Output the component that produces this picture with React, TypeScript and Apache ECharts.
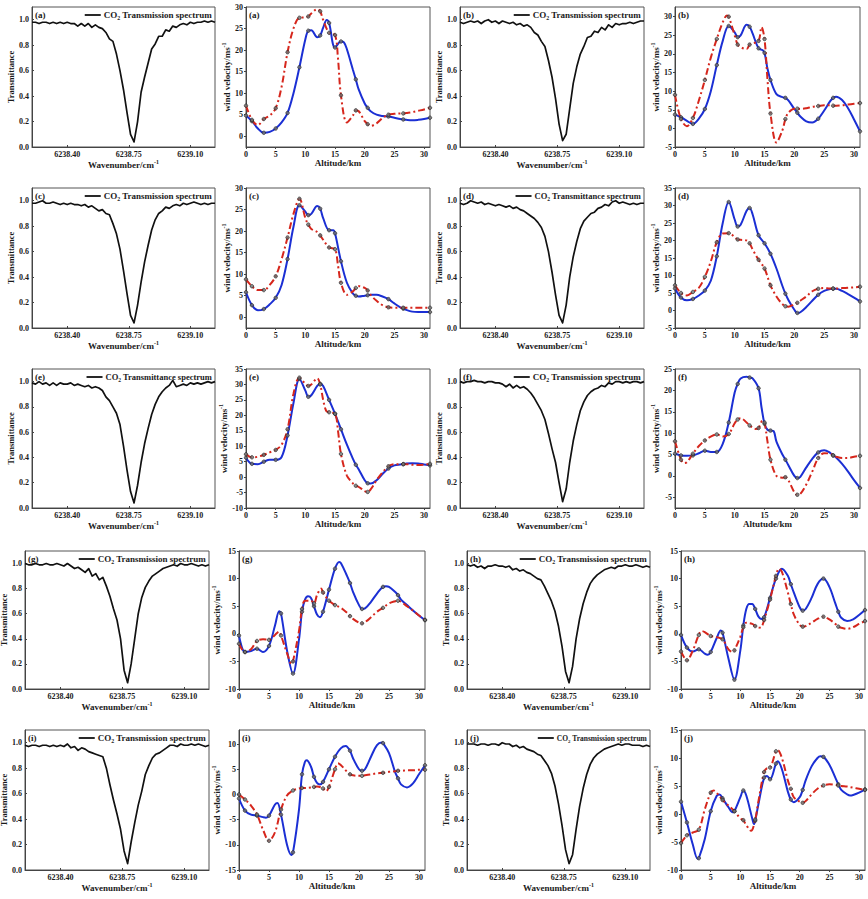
import React, { useEffect, useRef } from 'react';
import * as echarts from 'echarts';

// ---------------- data ----------------
const WAVENUMBER = [
  6238.20, 6238.22, 6238.24, 6238.26, 6238.28, 6238.30, 6238.32, 6238.34, 6238.36, 6238.38,
  6238.40, 6238.42, 6238.44, 6238.46, 6238.48, 6238.50, 6238.52, 6238.54, 6238.56, 6238.58,
  6238.60, 6238.62, 6238.64, 6238.66, 6238.68, 6238.70, 6238.72, 6238.74, 6238.76, 6238.78,
  6238.80, 6238.82, 6238.84, 6238.86, 6238.88, 6238.90, 6238.92, 6238.94, 6238.96, 6238.98,
  6239.00, 6239.02, 6239.04, 6239.06, 6239.08, 6239.10, 6239.12, 6239.14, 6239.16, 6239.18,
  6239.20, 6239.22, 6239.24,
];
const WN_TICKS = [6238.40, 6238.75, 6239.10];
const T_TICKS = [0, 0.2, 0.4, 0.6, 0.8, 1.0];
const ALT_TICKS = [0, 5, 10, 15, 20, 25, 30];

const SPEC_A = [0.98,0.98,0.97,0.98,0.98, 0.97,0.98,0.97,0.98,0.97, 0.98,0.97,0.97,0.95,0.97, 0.95,0.97,0.94,0.96,0.94, 0.93,0.90,0.85,0.83,0.73, 0.60,0.45,0.27,0.10,0.04, 0.20,0.43,0.55,0.66,0.77, 0.81,0.87,0.87,0.92,0.91, 0.95,0.94,0.96,0.97,0.96, 0.98,0.97,0.98,0.98,0.99, 0.98,0.99,0.98];
const SPEC_B = [0.98,0.97,0.98,0.99,0.98, 0.99,0.97,0.99,1.0,0.98, 0.99,0.97,0.99,0.98,0.97, 0.98,0.96,0.97,0.95,0.96, 0.94,0.90,0.88,0.83,0.79, 0.68,0.55,0.38,0.18,0.05, 0.10,0.30,0.50,0.63,0.73, 0.79,0.86,0.87,0.91,0.90, 0.94,0.92,0.96,0.94,0.97, 0.96,0.97,0.97,0.98,0.97, 0.98,0.99,0.99];
const SPEC_C = [0.98,0.98,0.99,1.0,0.98, 0.98,0.99,0.98,0.97,0.98, 0.97,0.98,0.97,0.97,0.96, 0.97,0.95,0.96,0.94,0.92, 0.93,0.90,0.89,0.82,0.74, 0.62,0.45,0.27,0.10,0.04, 0.18,0.36,0.52,0.65,0.77, 0.85,0.90,0.92,0.95,0.94, 0.96,0.97,0.96,0.98,0.97, 0.98,0.99,0.98,0.97,0.98, 0.97,0.98,0.98];
const SPEC_D = [0.98,0.97,0.98,1.0,0.99, 0.98,0.99,0.97,0.98,0.97, 0.96,0.97,0.96,0.95,0.96, 0.94,0.95,0.93,0.92,0.90, 0.88,0.86,0.83,0.79,0.72, 0.60,0.44,0.26,0.10,0.04, 0.18,0.40,0.56,0.68,0.78, 0.84,0.87,0.90,0.91,0.94, 0.95,0.97,0.96,0.99,1.0, 0.98,0.99,0.98,0.97,0.98, 0.97,0.98,0.98];
const SPEC_E = [0.99,0.98,1.0,0.98,0.99, 0.97,0.99,0.97,0.99,0.98, 0.98,0.99,0.97,0.98,0.97, 0.96,0.97,0.95,0.96,0.95, 0.93,0.88,0.85,0.80,0.75, 0.66,0.49,0.30,0.13,0.04, 0.18,0.36,0.51,0.63,0.74, 0.82,0.88,0.92,0.95,0.97, 1.01,0.96,0.97,0.98,0.97, 0.99,0.98,0.99,0.98,0.99, 1.0,0.99,1.0];
const SPEC_F = [1.0,0.99,1.0,1.0,1.01, 1.0,1.0,0.99,1.0,1.0, 0.99,0.99,0.98,0.96,0.98, 0.95,0.97,0.95,0.96,0.94, 0.91,0.87,0.82,0.77,0.70, 0.59,0.47,0.36,0.20,0.05, 0.15,0.36,0.53,0.66,0.77, 0.84,0.89,0.92,0.94,0.95, 0.97,0.96,0.99,0.98,1.0, 1.0,0.99,1.0,0.99,1.0, 1.0,0.99,1.0];
const SPEC_G = [1.0,0.99,0.99,1.0,0.99, 0.99,1.0,0.99,0.99,1.0, 0.99,0.98,1.0,0.98,0.96, 0.97,0.95,0.93,0.96,0.90, 0.92,0.87,0.89,0.82,0.74, 0.64,0.55,0.40,0.15,0.05, 0.20,0.40,0.60,0.73,0.81, 0.86,0.90,0.92,0.94,0.96, 0.97,0.98,0.99,0.98,1.0, 0.99,0.99,1.0,0.99,0.98, 0.99,0.98,0.99];
const SPEC_H = [0.99,0.98,0.99,0.97,0.98, 0.96,0.98,0.98,0.99,0.98, 0.98,0.97,0.98,0.95,0.96, 0.94,0.95,0.93,0.92,0.90, 0.88,0.87,0.82,0.76,0.70, 0.62,0.50,0.34,0.14,0.05, 0.18,0.40,0.56,0.68,0.77, 0.84,0.88,0.91,0.93,0.95, 0.96,0.97,0.96,0.98,0.98, 0.99,0.98,0.98,0.99,0.98, 0.97,0.98,0.97];
const SPEC_I = [0.98,0.97,0.98,0.98,0.97, 0.98,0.98,0.97,0.98,0.97, 0.98,0.97,0.99,0.96,0.97, 0.94,0.96,0.95,0.93,0.92, 0.91,0.90,0.89,0.80,0.67, 0.55,0.44,0.32,0.15,0.05, 0.22,0.37,0.51,0.62,0.75, 0.82,0.88,0.91,0.92,0.94, 0.96,0.98,0.98,0.97,0.99, 0.98,0.98,0.99,0.98,0.99, 0.98,0.97,0.98];
const SPEC_J = [0.99,0.99,0.99,0.98,0.99, 0.99,0.98,0.99,0.99,0.98, 1.0,0.99,0.99,0.97,0.98, 0.96,0.97,0.95,0.94,0.93, 0.91,0.90,0.86,0.82,0.76, 0.66,0.52,0.35,0.16,0.05, 0.12,0.32,0.50,0.64,0.75, 0.83,0.88,0.91,0.93,0.95, 0.96,0.97,0.98,0.99,0.98, 0.99,0.99,0.98,0.98,0.98, 0.97,0.98,0.97];

// wind profiles: [altitude km, wind velocity m/s]
const WIND_A_BLUE = [[0,4.8],[1,3.5],[2,1.8],[3,0.8],[4,1.0],[5,1.8],[6,3.2],[7,5.4],[8,10],[9,16],[10,22.5],[10.5,24.5],[11,24.6],[12,23],[12.5,23.4],[13,25.2],[13.6,27],[14,26.3],[15,20.6],[16,22],[16.5,21.8],[17,20.2],[18,15.5],[18.5,13.2],[19,10.8],[20,7.6],[20.5,6.6],[21,5.8],[22,5],[23,4.7],[24,4.6],[25,4.3],[26,4.0],[26.5,3.9],[27,3.8],[28,3.7],[29,3.8],[30,4.0],[31,4.3]];
const WIND_A_RED = [[0,7.1],[1,3.8],[2,2.6],[3,4.0],[4,4.8],[5,6.5],[6,11.5],[7,19.5],[8,25],[9,27.5],[10,27.6],[10.5,27.8],[11,28.5],[12,29.5],[12.5,29],[13,27],[14,24],[15,23.5],[15.5,18],[16,9.5],[17,3.2],[18,4.8],[18.5,6],[19,5.8],[20,3.5],[20.5,2.8],[21,2.4],[22,3],[23,4.2],[24,5],[25,5.2],[26,5.3],[26.5,5.3],[27,5.4],[28,5.6],[29,5.9],[30,6.2],[31,6.6]];
const WIND_B_BLUE = [[0,3.7],[1,3.0],[2,2.0],[3,1.2],[4,2.6],[5,5.2],[6,10],[7,17],[8,23.5],[9,27.5],[10,25.8],[10.5,24.5],[11,25],[12,27.8],[12.5,27.3],[13,25.5],[14,21.5],[14.7,21],[15,20.3],[15.5,16],[16,13],[17,9.2],[18,8.4],[18.5,8.2],[19,7.5],[20,5.2],[20.5,4.2],[21,3.2],[22,1.9],[23,1.6],[24,2.6],[25,4.8],[26,7.3],[26.5,8.2],[27,8.5],[28,7.6],[29,5.4],[30,2.4],[31,-0.8]];
const WIND_B_RED = [[0,9],[1,2.5],[2,0.6],[3,2.8],[4,7.5],[5,13],[6,19],[7,24],[8,28.5],[8.7,30.3],[9,30],[10,25],[10.5,22.5],[11,21.8],[12,21.3],[12.5,22.5],[13,22.8],[14,23.5],[14.5,27.2],[15,24],[15.5,13],[16,4],[17,-3.8],[18,-0.5],[18.5,2.5],[19,4.2],[20,5.3],[20.5,5.3],[21,5.2],[22,5.4],[23,5.8],[24,6],[25,6.2],[26,6.2],[26.5,6.1],[27,6.1],[28,6.2],[29,6.4],[30,6.6],[31,6.8]];
const WIND_C_BLUE = [[0,5.8],[1,2.8],[2,1.6],[3,1.9],[4,3.0],[5,4.5],[6,7.5],[7,13.5],[8,21],[9,26],[10,24.5],[10.5,23.7],[11,24],[12,25.8],[12.5,25.2],[13,23],[14,20.2],[14.7,20.2],[15,19.5],[16,13],[17,8],[18,5.5],[18.5,5],[19,4.8],[20,5],[20.5,5.1],[21,5.2],[22,5.2],[23,4.8],[24,4.2],[25,3.2],[26,2.3],[26.5,2.0],[27,1.7],[28,1.3],[29,1.2],[30,1.2],[31,1.2]];
const WIND_C_RED = [[0,8.8],[1,7.2],[2,6.3],[3,6.3],[4,7.5],[5,9.5],[6,13.5],[7,18.5],[8,24],[9,27.5],[10,23],[10.5,21.5],[11,20.5],[12,19.8],[12.5,19],[13,18],[14,16.2],[15,15.8],[15.5,12],[16,8],[17,5.2],[18,6],[18.5,6.8],[19,7.2],[20,6.8],[20.5,6.2],[21,5.2],[22,3.8],[23,2.8],[24,2.3],[25,2.2],[26,2.2],[26.5,2.2],[27,2.2],[28,2.2],[29,2.2],[30,2.2],[31,2.2]];
const WIND_D_BLUE = [[0,6.3],[1,3.7],[2,2.9],[3,3.3],[4,4.3],[5,5.7],[6,8.5],[7,15.5],[8,25],[9,31],[10,26],[10.5,24],[11,24.5],[12,28.5],[12.5,29.3],[13,27.5],[14,21.5],[15,19.2],[16,16.2],[17,12],[18,7],[18.5,4.8],[19,3],[20,0.2],[20.5,-0.7],[21,-0.5],[22,1],[23,2.8],[24,4.5],[25,5.6],[26,6.1],[26.5,6.2],[27,6.2],[28,5.6],[29,4.7],[30,3.7],[31,2.6]];
const WIND_D_RED = [[0,7.2],[1,5],[2,4.3],[3,5.3],[4,6.5],[5,9.6],[6,14],[7,19.5],[8,22],[9,22.1],[10,21],[10.5,20.3],[11,20.2],[12,20],[12.5,19.2],[13,17.5],[14,14.5],[15,12],[16,7.2],[17,4],[18,1.8],[18.5,1.2],[19,1.1],[20,1.8],[20.5,2.2],[21,2.8],[22,4],[23,5.5],[24,6.2],[25,6.4],[26,6.3],[26.5,6.3],[27,6.3],[28,6.4],[29,6.5],[30,6.6],[31,6.8]];
const WIND_E_BLUE = [[0,6.3],[1,4.3],[2,4.2],[3,5],[4,5.6],[5,5.6],[6,6.5],[7,13.5],[8,24],[9,31.8],[10,28],[10.5,26],[11,26.5],[12,29.5],[12.5,30.2],[13,29.5],[14,25],[15,20.5],[16,15.5],[17,10.5],[18,6],[18.5,4],[19,2.5],[20,-1],[20.5,-2],[21,-2.1],[22,-1],[23,1],[24,2.8],[25,3.8],[26,4.1],[26.5,4.2],[27,4.4],[28,4.5],[29,4.4],[30,4.1],[31,3.8]];
const WIND_E_RED = [[0,7.4],[1,6.4],[2,6.6],[3,7.2],[4,8],[5,8.8],[6,10.5],[7,15.5],[8,27],[9,32.2],[10,30.2],[10.5,29.5],[11,30],[12,32],[12.5,30],[13,25],[13.5,21.5],[14,21],[15,20.5],[15.5,15],[16,7.5],[17,0.5],[18,-2],[18.5,-2.8],[19,-3.2],[20,-4.5],[20.5,-4.8],[21,-4],[22,-1],[23,1.5],[24,3.5],[25,4.2],[26,4.2],[26.5,4.2],[27,4.2],[28,4.0],[29,3.9],[30,4.0],[31,4.3]];
const WIND_F_BLUE = [[0,5.2],[1,4.8],[2,4.7],[3,4.8],[4,5.3],[5,5.9],[6,5.6],[7,5.6],[8,7.5],[9,12.5],[10,19.5],[10.5,21.5],[11,22.8],[12,23.2],[12.5,23],[13,22.8],[14,20.5],[14.5,16],[15,12.2],[15.5,10.8],[16,10.6],[16.5,10.5],[17,8],[18,5],[18.5,3.8],[19,2.5],[20,0],[20.5,-0.5],[21,-0.2],[22,2],[23,4],[24,5.5],[25,6],[26,5.4],[26.5,4.8],[27,4.3],[28,2.8],[29,1],[30,-1],[31,-2.8]];
const WIND_F_RED = [[0,8.1],[1,3.8],[1.5,3],[2,3.2],[3,5.2],[4,7],[5,8.3],[6,9.2],[7,9.7],[8,9.2],[9,9.8],[10,12.3],[10.5,13.2],[11,13.5],[12,12.5],[12.5,11.8],[13.5,11],[14,11.2],[14.7,13],[15,12.5],[15.5,8],[16,3.8],[17,0],[18,-0.4],[18.5,-0.3],[19,-1],[20,-3.8],[20.5,-4.4],[21,-4.2],[22,-2],[23,1],[24,4.2],[25,5.3],[26,5.2],[26.5,4.8],[27,4.5],[28,4.2],[29,4.2],[30,4.5],[31,4.7]];
const WIND_G_BLUE = [[0,-0.3],[1,-3.3],[2,-3.1],[3,-2.7],[4,-3.3],[5,-2.2],[6,1.5],[6.7,4.1],[7,3.7],[8,-3],[9,-7.2],[10,-1],[10.5,4],[11,6.2],[11.5,6.8],[12,6.5],[12.5,5],[13,3.5],[13.5,3],[14,4],[15,8],[16,11.8],[16.7,13],[17,12.8],[18,10.5],[18.5,9.2],[19,7.6],[20,5.2],[20.5,4.5],[21,4.6],[22,5.8],[23,7.3],[24,8.5],[24.5,8.6],[25,8.5],[26,7.6],[26.5,7],[27,6.2],[28,5.2],[29,4.2],[30,3.3],[31,2.5]];
const WIND_G_RED = [[0,-1.8],[1,-3.3],[2,-2.8],[3,-1.3],[4,-1],[5,-1.1],[6,-0.2],[6.7,0.4],[7,-0.3],[8,-3.5],[8.8,-5.5],[9,-5],[10,0.5],[10.5,4.5],[11,6],[12,6],[12.5,5.5],[13,7],[13.7,8.2],[14,7.5],[15,6],[16,5.2],[17,4.7],[18,3.8],[18.5,3.2],[19,2.7],[20,2],[20.5,1.9],[21,2.1],[22,3],[23,4],[24,4.7],[25,5.5],[26,5.9],[26.5,6],[27,5.8],[28,5],[29,4.2],[30,3.3],[31,2.5]];
const WIND_H_BLUE = [[0,-0.2],[1,-2.5],[2,-3.2],[3,-2.8],[4,-3.6],[4.5,-3.8],[5,-3.3],[6,-0.8],[6.7,0.6],[7,0.2],[8,-4.5],[9,-8.3],[10,-3],[10.5,1.5],[11,4.5],[11.5,5.4],[12,5.4],[12.5,4.5],[13,3.2],[13.5,2.7],[14,3],[15,6.5],[16,10],[17,11.8],[18,10.5],[18.5,9],[19,7.5],[20,4.8],[20.5,4.2],[21,4.5],[22,6.5],[23,9],[24,10],[25,8.5],[26,5.5],[26.5,4],[27,2.9],[28,2.3],[29,2.6],[30,3.4],[31,4.3]];
const WIND_H_RED = [[0,-3.2],[1,-4.8],[2,-3],[3,-0.2],[3.5,0.5],[4,0.3],[5,-0.4],[6,-0.6],[7,-1],[8,-2.8],[8.7,-3.3],[9,-3],[10,-0.5],[10.5,1.2],[11,2],[12,1.8],[12.5,1.4],[13,1.1],[13.5,1.2],[14,2.5],[15,6.2],[16,10.5],[16.5,11.8],[17,11.2],[18,7.5],[18.5,5.4],[19,3.5],[20,1.6],[20.5,1.3],[21,1.4],[22,2],[23,2.7],[24,3.1],[25,2.6],[26,1.8],[26.5,1.3],[27,1.1],[28,0.9],[29,1.2],[30,1.8],[31,2.3]];
const WIND_I_BLUE = [[0,-0.8],[1,-3.2],[2,-4],[3,-4.2],[4,-4.5],[4.5,-4.6],[5,-4.2],[6,-2],[6.4,-1.7],[7,-4],[8,-10],[8.7,-12],[9,-11.5],[10,-3],[10.5,4],[11,6.5],[11.3,6.8],[12,5.5],[12.5,3.5],[13,2.3],[13.5,2],[14,2.5],[15,5],[16,7.5],[17,9.2],[17.8,9.6],[18,9.5],[18.5,8.7],[19,7.2],[20,5],[20.5,4.7],[21,5],[22,7.5],[23,9.8],[23.8,10.3],[24,10.2],[25,8.2],[26,4.5],[26.5,3.2],[27,2],[28,1.4],[29,2.2],[30,4],[31,5.8]];
const WIND_I_RED = [[0,0],[1,-1],[2,-2.2],[3,-4],[4,-7],[5,-9.2],[6,-7.5],[7,-3],[8,-0.2],[9,0.8],[10,1.2],[10.5,1.3],[11,1.3],[12,1.4],[12.5,1.5],[13,1.6],[14,1.2],[14.5,0.6],[15,1.5],[16,5],[16.5,6.2],[17,5.8],[18,4.5],[18.5,4],[19,3.8],[20,3.7],[20.5,3.7],[21,3.8],[22,4],[23,4.2],[24,4.3],[25,4.5],[26,4.6],[26.5,4.7],[27,4.7],[28,4.8],[29,4.8],[30,4.9],[31,4.9]];
const WIND_J_BLUE = [[0,2.2],[1,-1.5],[2,-5.5],[2.8,-8],[3,-7.9],[4,-4.5],[5,0.5],[6,3.2],[6.5,3.5],[7,2.8],[8,1.2],[8.7,0.3],[9,0.5],[10,3],[10.5,4.2],[11,3.3],[12,-0.8],[12.3,-1.8],[12.5,-1.2],[13,1.5],[14,6.5],[14.5,6.8],[15,6.2],[16,9],[16.3,9.4],[17,8],[18,4],[18.5,2.6],[19,2.1],[20,3],[20.5,4.3],[21,6],[22,8.5],[23,10],[23.5,10.3],[24,10.2],[25,8.8],[26,6.5],[26.5,5.3],[27,4.3],[28,3.5],[28.5,3.3],[29,3.4],[30,3.8],[31,4.4]];
const WIND_J_RED = [[0,-5.2],[1,-3.8],[2,-3.3],[3,-2.8],[4,0.8],[5,3.8],[5.5,4.2],[6,3.8],[7,2.5],[8,1.5],[9,0.5],[10,-0.8],[10.5,-1.1],[11,-2],[11.8,-3],[12.5,-1],[13,2],[14,7.5],[14.5,8.2],[15,8.3],[16,11.2],[16.3,11.4],[17,10],[18,6],[18.5,4.5],[19,3],[20,2.2],[20.5,2],[21,2.3],[22,3.5],[23,4.5],[24,5.1],[25,5.3],[26,5.2],[26.5,5.1],[27,5],[28,4.9],[29,4.7],[30,4.5],[31,4.3]];

const MARK_ALTS = [0, 1, 3, 5, 7, 9, 10.5, 12.5, 14, 15, 16, 18.5, 20.5, 24, 26.5, 31];

const PANEL_IDS = ['a', 'b', 'c', 'd', 'e', 'f', 'g', 'h', 'i', 'j'];
const SPECTRA = [SPEC_A, SPEC_B, SPEC_C, SPEC_D, SPEC_E, SPEC_F, SPEC_G, SPEC_H, SPEC_I, SPEC_J];
const WIND_BLUE = [WIND_A_BLUE, WIND_B_BLUE, WIND_C_BLUE, WIND_D_BLUE, WIND_E_BLUE, WIND_F_BLUE, WIND_G_BLUE, WIND_H_BLUE, WIND_I_BLUE, WIND_J_BLUE];
const WIND_RED = [WIND_A_RED, WIND_B_RED, WIND_C_RED, WIND_D_RED, WIND_E_RED, WIND_F_RED, WIND_G_RED, WIND_H_RED, WIND_I_RED, WIND_J_RED];
const LEGEND_WORD = ['Transmission', 'Transmission', 'Transmission', 'Transmittance', 'Transmittance', 'Transmission', 'Transmission', 'Transmission', 'Transmission', 'Transmission'];
const ALT_NAME = ['Altitude/km', 'Altitude/km', 'Altitude/km', 'Altitude/km', 'Altitude/km', 'Altutude/km', 'Altitude/km', 'Altitude/km', 'Altitude/km', 'Altitude/km'];
const WIND_MIN = [-2.5, -5, -2.5, -5, -10, -7.5, -10, -10, -15, -10];
const WIND_MAX = [30, 32.6, 30, 35, 35, 25, 15, 15, 12.8, 15];
const WIND_TICKS = [
  [0, 5, 10, 15, 20, 25, 30],
  [-5, 0, 5, 10, 15, 20, 25, 30],
  [0, 5, 10, 15, 20, 25, 30],
  [-5, 0, 5, 10, 15, 20, 25, 30, 35],
  [-10, -5, 0, 5, 10, 15, 20, 25, 30, 35],
  [-5, 0, 5, 10, 15, 20, 25],
  [-10, -5, 0, 5, 10, 15],
  [-10, -5, 0, 5, 10, 15],
  [-15, -10, -5, 0, 5, 10],
  [-10, -5, 0, 5, 10, 15],
];

// ---------------- layout / style ----------------
const ROW_TOP = [7, 188, 369, 551, 730];
const ROW_HEIGHT = [140, 140, 139, 138, 140];
const COL_LEFT_UPPER = [32, 246, 460, 675];
const COL_WIDTH_UPPER = [183, 184, 184, 185];
const COL_LEFT_LOWER = [25, 239, 467, 681];
const COL_WIDTH_LOWER = [184, 186, 183, 184];
const LEGEND_SIZE = [9, 9, 9, 8.5, 8.5, 9, 9, 9, 9, 7.5];

const FONT = "'Liberation Serif', 'Times New Roman', serif";
const BLUE = '#1b2fd4';
const RED = '#d6261c';
const TXT = '#1a1a1a';

function textWidth(text: string, size: number) {
  const ctx = document.createElement('canvas').getContext('2d');
  if (!ctx) return text.length * size * 0.45;
  ctx.font = `bold ${size}px ${FONT}`;
  return ctx.measureText(text).width;
}

const supRich = {
  n: { fontFamily: FONT, fontWeight: 'bold', fontSize: 9, color: TXT, lineHeight: 12, verticalAlign: 'middle' },
  sup: { fontFamily: FONT, fontWeight: 'bold', fontSize: 6, color: TXT, lineHeight: 12, verticalAlign: 'top' },
};

function labelStyle(extra: any = {}) {
  return { fontFamily: FONT, fontWeight: 'bold', fontSize: 8, color: TXT, margin: 3, ...extra };
}

function buildOption() {
  const grid: any[] = [];
  const xAxis: any[] = [];
  const yAxis: any[] = [];
  const series: any[] = [];
  const graphic: any[] = [];

  const axisLine = { show: true, onZero: false, lineStyle: { color: '#444', width: 1 } };

  PANEL_IDS.forEach((id, p) => {
    const r = Math.floor(p / 2);
    const side = p % 2;
    const lefts = r < 3 ? COL_LEFT_UPPER : COL_LEFT_LOWER;
    const widths = r < 3 ? COL_WIDTH_UPPER : COL_WIDTH_LOWER;
    const top = ROW_TOP[r];
    const h = ROW_HEIGHT[r];

    // ---- spectrum panel ----
    const gs = grid.length;
    const sl = lefts[side * 2];
    const sw = widths[side * 2];
    grid.push({ left: sl, top, width: sw, height: h, show: true, borderColor: '#555', borderWidth: 1, backgroundColor: 'transparent', containLabel: false, outerBoundsMode: 'none' });
    xAxis.push({
      gridIndex: gs, type: 'value', min: 6238.2, max: 6239.24,
      name: '{n|Wavenumber/cm}{sup|-1}', nameLocation: 'middle', nameGap: 11,
      nameTextStyle: { rich: supRich },
      axisLine, splitLine: { show: false },
      axisTick: { show: true, inside: true, length: 2, customValues: WN_TICKS, lineStyle: { color: '#444' } },
      axisLabel: labelStyle({ customValues: WN_TICKS, formatter: (v: number) => v.toFixed(2) }),
    });
    yAxis.push({
      gridIndex: gs, type: 'value', min: 0, max: 1.1,
      name: 'Transmittance', nameLocation: 'middle', nameGap: 15, nameRotate: 90,
      nameTextStyle: { fontFamily: FONT, fontWeight: 'bold', fontSize: 8.5, color: TXT },
      axisLine, splitLine: { show: false },
      axisTick: { show: true, inside: true, length: 2, customValues: T_TICKS, lineStyle: { color: '#444' } },
      axisLabel: labelStyle({ customValues: T_TICKS, formatter: (v: number) => v.toFixed(1) }),
    });
    series.push({
      type: 'line', xAxisIndex: gs, yAxisIndex: gs, silent: true,
      data: WAVENUMBER.map((w, i) => [w, SPECTRA[p][i]]),
      symbol: 'none', lineStyle: { color: '#111', width: 1.7, join: 'round' },
    });

    // panel label + legend
    graphic.push({
      type: 'text', left: sl + 3, top: top + 3,
      style: { text: `(${id})`, font: `bold 9px ${FONT}`, fill: TXT },
    });
    const fs = LEGEND_SIZE[p];
    const restText = ` ${LEGEND_WORD[p]} spectrum`;
    const tw = textWidth('CO', fs) + textWidth('2', fs * 0.65) + textWidth(restText, fs);
    const textRight = sl + sw - 3;
    const textLeft = textRight - tw;
    const ly = top + 8;
    graphic.push({
      type: 'text', x: textLeft, y: ly,
      style: {
        text: `{n|CO}{sub|2}{n|${restText}}`,
        verticalAlign: 'middle', align: 'left',
        rich: {
          n: { fontFamily: FONT, fontWeight: 'bold', fontSize: fs, fill: TXT, lineHeight: 12, verticalAlign: 'middle' },
          sub: { fontFamily: FONT, fontWeight: 'bold', fontSize: fs * 0.65, fill: TXT, lineHeight: 12, verticalAlign: 'bottom' },
        },
      },
    });
    graphic.push({
      type: 'line', shape: { x1: textLeft - 19, y1: ly, x2: textLeft - 3, y2: ly },
      style: { stroke: '#111', lineWidth: 1.8 },
    });

    // ---- wind panel ----
    const gw = grid.length;
    const wl = lefts[side * 2 + 1];
    const ww = widths[side * 2 + 1];
    grid.push({ left: wl, top, width: ww, height: h, show: true, borderColor: '#555', borderWidth: 1, backgroundColor: 'transparent', containLabel: false, outerBoundsMode: 'none' });
    xAxis.push({
      gridIndex: gw, type: 'value', min: 0, max: 31,
      name: ALT_NAME[p], nameLocation: 'middle', nameGap: 11,
      nameTextStyle: { fontFamily: FONT, fontWeight: 'bold', fontSize: 9, color: TXT },
      axisLine, splitLine: { show: false },
      axisTick: { show: true, inside: false, length: 2, customValues: ALT_TICKS, lineStyle: { color: '#444' } },
      axisLabel: labelStyle({ customValues: ALT_TICKS }),
    });
    yAxis.push({
      gridIndex: gw, type: 'value', min: WIND_MIN[p], max: WIND_MAX[p],
      name: '{n|wind velocity/ms}{sup|-1}', nameLocation: 'middle', nameGap: 12, nameRotate: 90,
      nameTextStyle: { rich: supRich },
      axisLine, splitLine: { show: false },
      axisTick: { show: true, inside: false, length: 2, customValues: WIND_TICKS[p], lineStyle: { color: '#444' } },
      axisLabel: labelStyle({ customValues: WIND_TICKS[p] }),
    });
    series.push({
      type: 'line', xAxisIndex: gw, yAxisIndex: gw, silent: true, smooth: 0.35,
      data: WIND_RED[p], symbol: 'none', z: 3,
      lineStyle: { color: RED, width: 2, type: [7, 3, 2, 3] },
    });
    series.push({
      type: 'line', xAxisIndex: gw, yAxisIndex: gw, silent: true, smooth: 0.35,
      data: WIND_BLUE[p], symbol: 'none', z: 2,
      lineStyle: { color: BLUE, width: 2 },
    });
    series.push({
      type: 'scatter', xAxisIndex: gw, yAxisIndex: gw, silent: true, z: 5,
      data: [...WIND_BLUE[p], ...WIND_RED[p]].filter((d) => MARK_ALTS.includes(d[0])),
      symbol: 'circle', symbolSize: 3.5,
      itemStyle: { color: '#707070', borderColor: '#222', borderWidth: 0.8 },
    });
    graphic.push({
      type: 'text', left: wl + 3, top: top + 3,
      style: { text: `(${id})`, font: `bold 9px ${FONT}`, fill: TXT },
    });
  });

  return {
    animation: false,
    backgroundColor: '#ffffff',
    grid, xAxis, yAxis, series, graphic,
  };
}

export default function App() {
  const ref = useRef<HTMLDivElement>(null);
  useEffect(() => {
    if (!ref.current) return;
    const chart = echarts.init(ref.current, undefined, { renderer: 'svg' });
    chart.setOption(buildOption() as any);
    return () => chart.dispose();
  }, []);
  return (
    <div
      ref={ref}
      style={{ position: 'absolute', left: 0, top: 0, width: 868, height: 899, background: '#fff' }}
    />
  );
}
